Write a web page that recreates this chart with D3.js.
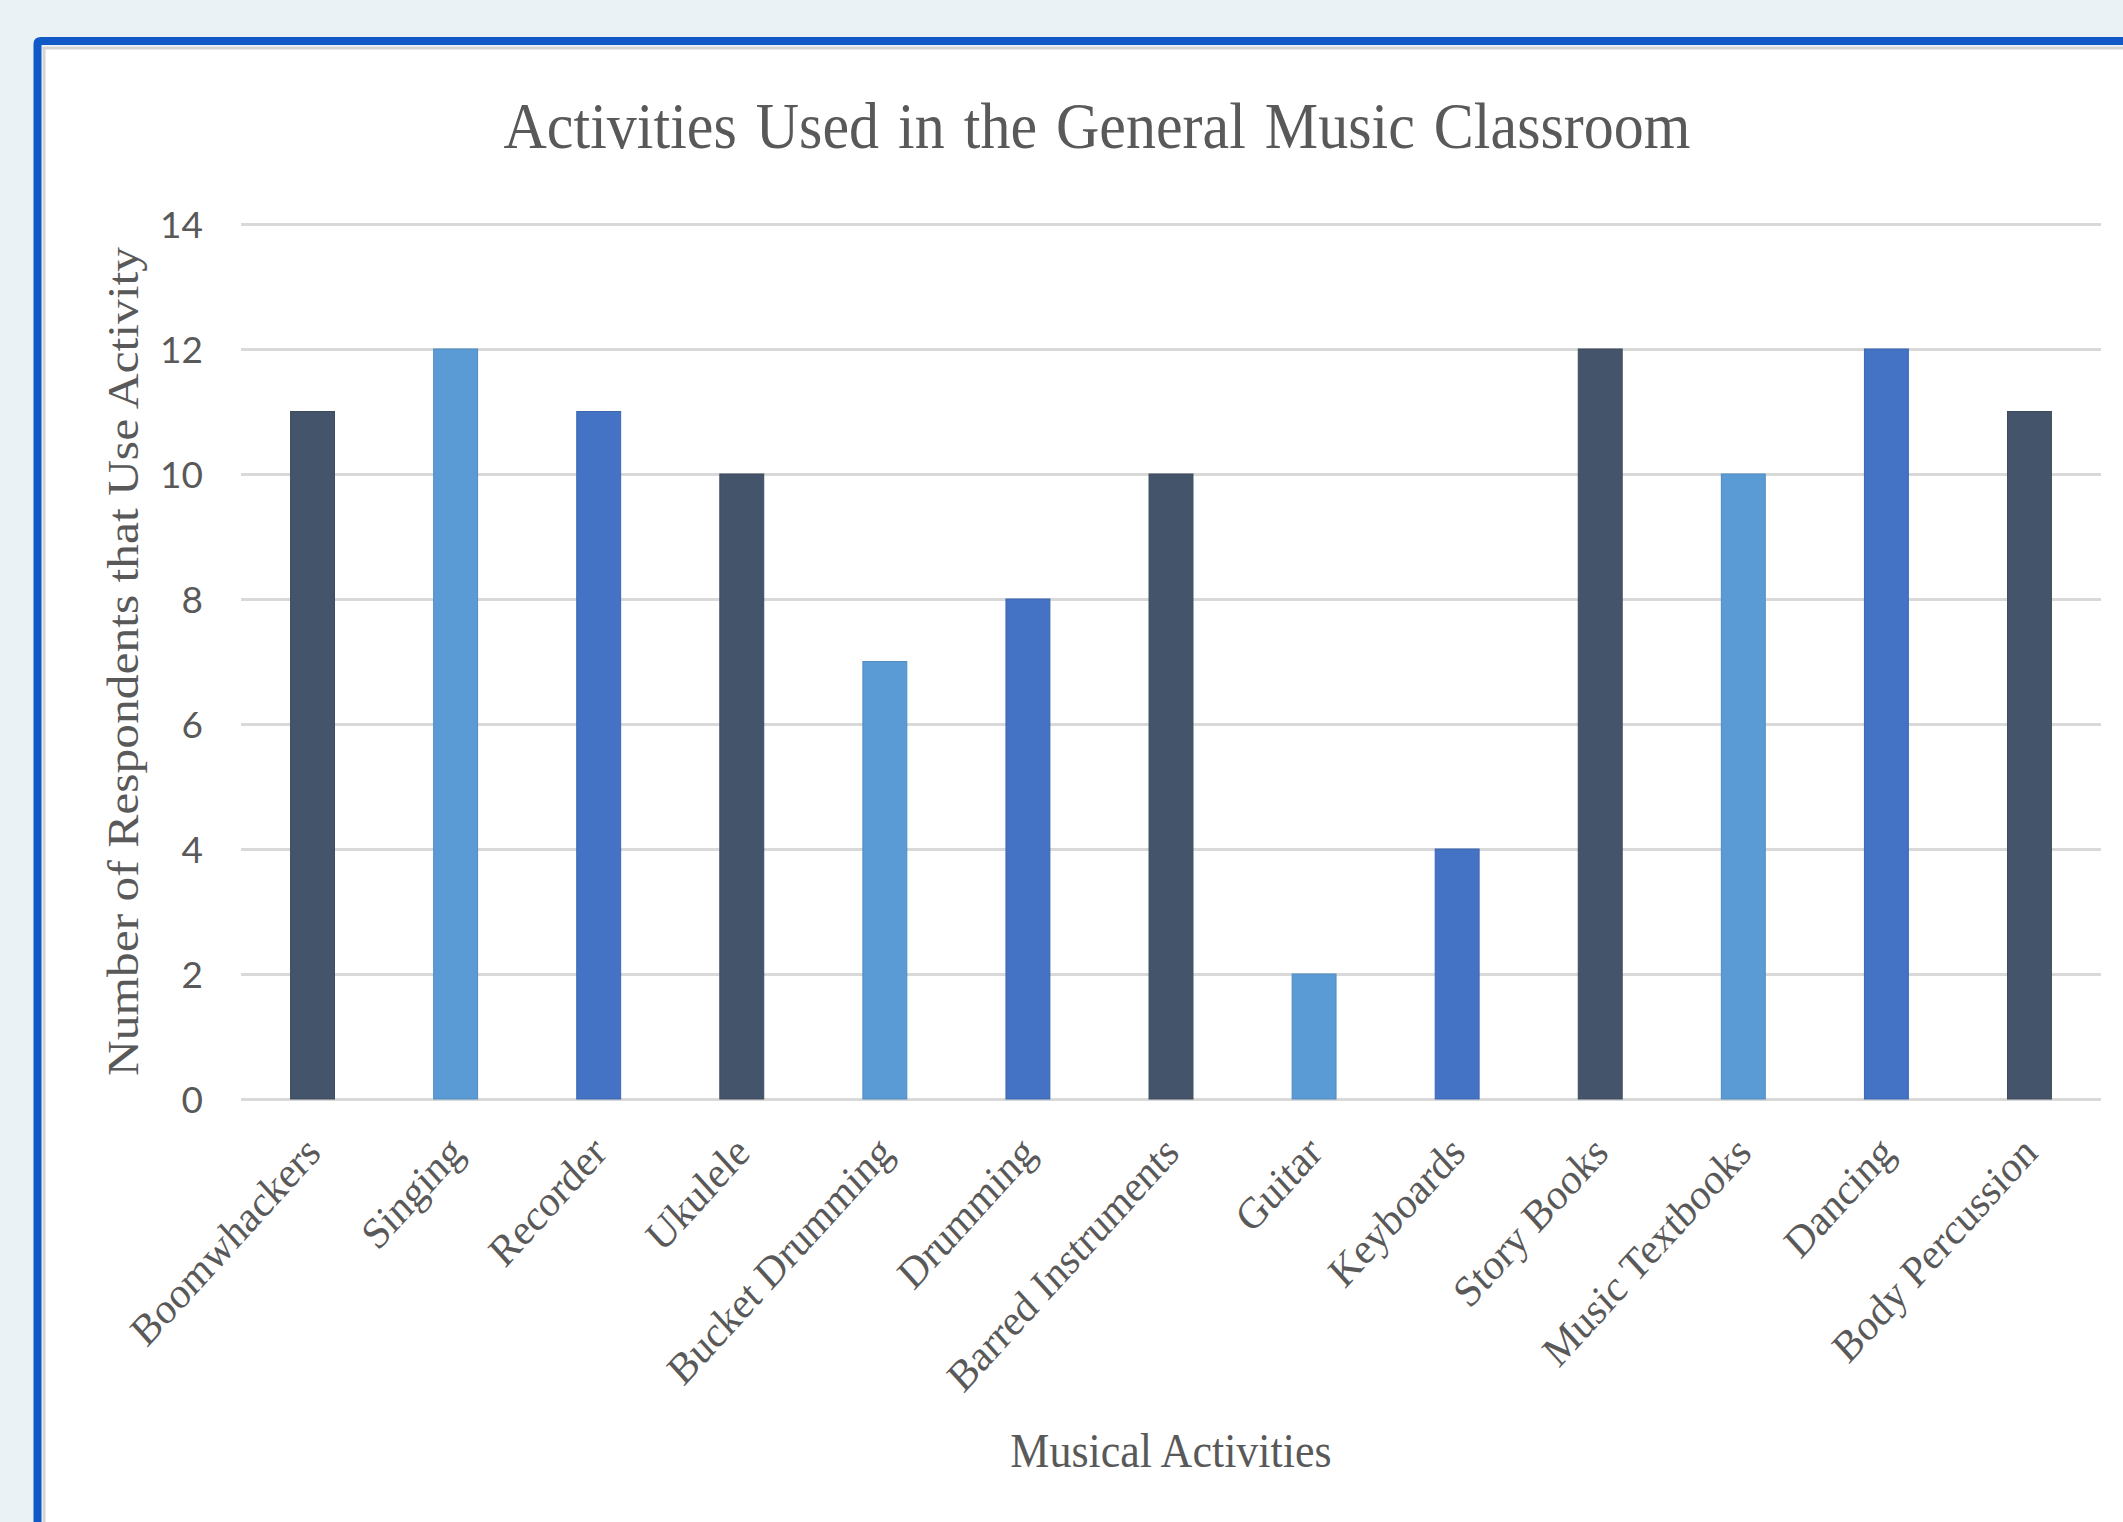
<!DOCTYPE html>
<meta charset="utf-8">
<head>
  <style>
    body { margin: 0; background: #eaf2f5; }
    svg { display: block; }
    .grid line { stroke: #d9d9d9; stroke-width: 3px; }
    .grid .domain { display: none; }
    .ytick text { font-family: Lato, "Open Sans", sans-serif; font-size: 37px; fill: #595959; }
    .xlab text { font-family: "Liberation Serif", "Times New Roman", serif; font-size: 40px; fill: #595959; }
    .ttl { font-family: "Liberation Serif", "Times New Roman", serif; fill: #595959; }
  </style>
  <script src="https://cdn.jsdelivr.net/npm/d3@7/dist/d3.min.js"></script>
</head>
<body>
<script>
  var categories = ["Boomwhackers", "Singing", "Recorder", "Ukulele", "Bucket Drumming", "Drumming",
                    "Barred Instruments", "Guitar", "Keyboards", "Story Books", "Music Textbooks",
                    "Dancing", "Body Percussion"];
  var values = [11, 12, 11, 10, 7, 8, 10, 2, 4, 12, 10, 12, 11];
  var yTicks = [0, 2, 4, 6, 8, 10, 12, 14];
  var palette = ["#44546a", "#5b9bd5", "#4472c4"];   // cycles point by point

  var W = 2123, H = 1522
    , plotLeft = 241, plotRight = 2101, plotTop = 224, plotBottom = 1099
    , stretch = 1.1;   // the screenshot is a bit taller than wide

  var svg = d3.select("body").append("svg")
      .attr("width", W)
      .attr("height", H);

  // page background, frame and white panel
  svg.append("rect").attr("width", W).attr("height", H).attr("fill", "#eaf2f5");
  svg.append("rect").attr("x", 42).attr("y", 46).attr("width", W).attr("height", H).attr("fill", "#fff");
  svg.append("path")
      .attr("d", "M42,48 H" + W + " M44,48 V" + H)
      .attr("stroke", "#d4d4d4").attr("stroke-width", 3).attr("fill", "none");
  svg.append("path")
      .attr("d", "M37.5," + H + " V44 Q37.5,41 41,41 H" + W)
      .attr("stroke", "#1259c8").attr("stroke-width", 8).attr("fill", "none");

  var x = d3.scaleBand()
      .domain(categories)
      .range([plotLeft, plotRight])
      .paddingInner(0.693)
      .paddingOuter(0.3465);

  var y = d3.scaleLinear()
      .domain([0, 14])
      .range([plotBottom, plotTop]);

  // gridlines + tick labels
  var gy = svg.append("g")
      .attr("class", "grid ytick")
      .attr("transform", "translate(" + plotLeft + ",0)")
      .call(d3.axisLeft(y).tickValues(yTicks).tickSize(-(plotRight - plotLeft)).tickPadding(38));
  gy.selectAll("text").attr("dy", "0.36em");

  // bars
  svg.selectAll(".bar")
      .data(values)
    .enter().append("rect")
      .attr("class", "bar")
      .attr("x", function(d, i) { return x(categories[i]); })
      .attr("width", x.bandwidth())
      .attr("y", function(d) { return y(d); })
      .attr("height", function(d) { return y(0) - y(d); })
      .attr("fill", function(d, i) { return palette[i % 3]; })
      .attr("stroke", function(d, i) { return d3.color(palette[i % 3]).darker(0.3); })
      .attr("stroke-width", 1);

  // category labels, rotated
  var gx = svg.append("g")
      .attr("class", "xlab")
      .attr("transform", "translate(0," + plotBottom + ")")
      .call(d3.axisBottom(x).tickSize(0));
  gx.select(".domain").remove();
  gx.selectAll("text")
      .attr("x", 0).attr("y", 0).attr("dy", 0)
      .attr("text-anchor", "end")
      .attr("transform", "translate(10,56) scale(1," + stretch + ") rotate(-45)");

  // titles
  svg.append("g")
      .attr("transform", "translate(1097,148) scale(1," + stretch + ")")
    .append("text")
      .attr("class", "ttl")
      .attr("text-anchor", "middle")
      .style("font-size", "60px")
      .style("word-spacing", "4px")
      .text("Activities Used in the General Music Classroom");

  svg.append("g")
      .attr("transform", "translate(138," + (plotTop + plotBottom) / 2 + ") scale(1," + stretch + ") rotate(-90)")
    .append("text")
      .attr("class", "ttl")
      .attr("text-anchor", "middle")
      .style("font-size", "45px")
      .text("Number of Respondents that Use Activity");

  svg.append("g")
      .attr("transform", "translate(" + (plotLeft + plotRight) / 2 + ",1467) scale(1," + stretch + ")")
    .append("text")
      .attr("class", "ttl")
      .attr("text-anchor", "middle")
      .style("font-size", "44px")
      .text("Musical Activities");
</script>
</body>
